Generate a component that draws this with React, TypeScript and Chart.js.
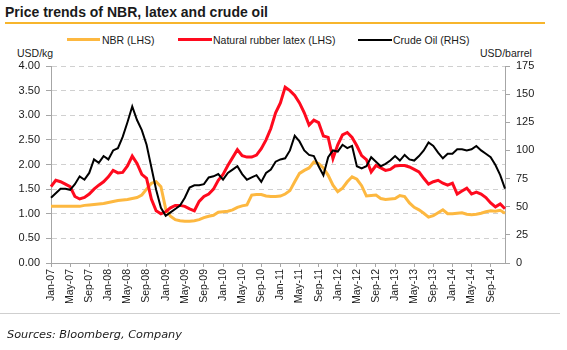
import React, { useEffect, useRef } from 'react';
import { Chart, registerables } from 'chart.js';

Chart.register(...registerables);

const MONTHS = ['Jan', 'Feb', 'Mar', 'Apr', 'May', 'Jun', 'Jul', 'Aug', 'Sep', 'Oct', 'Nov', 'Dec'];
const YEARS = ['07', '08', '09', '10', '11', '12', '13', '14'];
const categories: string[] = YEARS.flatMap((y) => MONTHS.map((m) => `${m}-${y}`));

// NBR (LHS), USD/kg
const nbr = [
  1.15, 1.15, 1.15, 1.15, 1.15, 1.15, 1.15, 1.17, 1.18, 1.19, 1.20, 1.21,
  1.23, 1.25, 1.27, 1.28, 1.29, 1.31, 1.33, 1.38, 1.50, 1.62, 1.65, 1.55,
  1.10, 0.95, 0.88, 0.86, 0.85, 0.85, 0.86, 0.88, 0.92, 0.95, 0.97, 1.03,
  1.04, 1.05, 1.08, 1.13, 1.16, 1.18, 1.38, 1.39, 1.39, 1.36, 1.35, 1.35,
  1.36, 1.40, 1.47, 1.65, 1.82, 1.88, 1.93, 2.05, 2.02, 1.93, 1.78, 1.58,
  1.45, 1.52, 1.65, 1.75, 1.70, 1.57, 1.36, 1.37, 1.38, 1.31, 1.29, 1.30,
  1.31, 1.37, 1.35, 1.22, 1.13, 1.08, 1.01, 0.93, 0.96, 1.02, 1.08, 1.00,
  1.00, 1.01, 1.02, 0.99, 0.98, 0.99, 1.01, 1.04, 1.06, 1.05, 1.07, 1.01,
];

// Natural rubber latex (LHS), USD/kg
const latex = [
  1.55, 1.68, 1.65, 1.60, 1.55, 1.35, 1.30, 1.33, 1.40, 1.50, 1.58, 1.65,
  1.75, 1.88, 1.83, 1.84, 1.97, 2.17, 2.02, 1.80, 1.72, 1.30, 1.06, 1.00,
  1.04, 1.12, 1.17, 1.17, 1.15, 1.10, 1.06, 1.25, 1.35, 1.40, 1.50, 1.68,
  1.80, 1.98, 2.14, 2.30, 2.18, 2.15, 2.15, 2.19, 2.32, 2.50, 2.73, 3.05,
  3.25, 3.57, 3.50, 3.40, 3.25, 3.05, 2.80, 2.90, 2.85, 2.58, 2.55, 2.12,
  2.40, 2.60, 2.65, 2.55, 2.38, 2.18, 2.10, 1.85, 1.98, 1.93, 1.88, 1.90,
  1.97, 1.98, 1.98, 1.95, 1.90, 1.85, 1.72, 1.60, 1.65, 1.68, 1.62, 1.58,
  1.62, 1.40, 1.46, 1.52, 1.40, 1.44, 1.40, 1.33, 1.22, 1.14, 1.20, 1.10,
];

// Crude Oil (RHS), USD/barrel
const crude = [
  58, 62, 66, 66, 65, 70, 77, 74, 80, 92, 89, 95,
  92, 100, 102, 112, 125, 139, 127, 118, 105, 85, 65, 49,
  42, 45, 48, 51, 58, 67, 69, 69, 70, 76, 77, 79,
  74, 80, 83, 86, 79, 74, 76, 78, 72, 80, 83, 90,
  92, 93, 100, 113, 108, 100, 96, 95, 86, 78, 94, 100,
  99, 105, 102, 104, 86, 84, 86, 94, 90, 86, 88, 91,
  95, 91, 96, 92, 91, 95, 100, 107, 104, 98, 93, 97,
  97, 101, 101, 100, 101, 104, 100, 97, 94, 87, 78, 66,
];

const LEFT_MIN = 0;
const LEFT_MAX = 4;
const LEFT_STEP = 0.5;
const RIGHT_MIN = 0;
const RIGHT_MAX = 175;
const RIGHT_STEP = 25;
const LABEL_EVERY = 4;

const ORANGE = '#FDB840';
const RED = '#FF0A1E';
const BLACK = '#000000';
const AXIS = '#A6A6A6';
const GRID = '#D0D0D0';
const TEXT = '#1A1A1A';
const FONT = '"Liberation Sans", Arial, sans-serif';

export default function App() {
  const ref = useRef<HTMLCanvasElement>(null);

  useEffect(() => {
    if (!ref.current) return;
    Chart.defaults.font.family = FONT;
    const chart = new Chart(ref.current, {
      type: 'line',
      data: {
        labels: categories,
        datasets: [
          { label: 'NBR (LHS)', data: nbr, borderColor: ORANGE, backgroundColor: ORANGE, borderWidth: 3, yAxisID: 'y', order: 2, pointRadius: 0, tension: 0 },
          { label: 'Natural rubber latex (LHS)', data: latex, borderColor: RED, backgroundColor: RED, borderWidth: 3, yAxisID: 'y', order: 1, pointRadius: 0, tension: 0 },
          { label: 'Crude Oil (RHS)', data: crude, borderColor: BLACK, backgroundColor: BLACK, borderWidth: 2, yAxisID: 'y1', order: 0, pointRadius: 0, tension: 0 },
        ],
      },
      options: {
        animation: false,
        responsive: false,
        maintainAspectRatio: false,
        layout: { padding: { top: 66, bottom: 47, left: 0, right: 0 } },
        plugins: { legend: { display: false }, title: { display: false }, tooltip: { enabled: false } },
        scales: {
          x: {
            type: 'category',
            ticks: {
              autoSkip: false,
              maxRotation: 90,
              minRotation: 90,
              padding: 2,
              color: TEXT,
              font: { size: 10.5, family: FONT },
              callback: (_v: any, i: number) => (i % LABEL_EVERY === 0 ? categories[i] : ''),
            },
            grid: {
              drawOnChartArea: false,
              drawTicks: true,
              tickLength: 4,
              tickColor: (c: any) => (c.index % LABEL_EVERY === 0 ? AXIS : 'rgba(0,0,0,0)'),
            },
            border: { color: AXIS, width: 1 },
            afterFit: (s: any) => { s.height = 40; },
          },
          y: {
            position: 'left',
            min: LEFT_MIN,
            max: LEFT_MAX,
            ticks: {
              stepSize: LEFT_STEP,
              padding: 6,
              color: TEXT,
              font: { size: 11, family: FONT },
              callback: (v: any) => Number(v).toFixed(2),
            },
            grid: { color: GRID, lineWidth: 1, tickColor: AXIS, tickLength: 5, drawTicks: true },
            border: { color: AXIS, width: 1, dash: [5, 4] },
            afterFit: (s: any) => { s.width = 51; },
          },
          y1: {
            position: 'right',
            min: RIGHT_MIN,
            max: RIGHT_MAX,
            ticks: { stepSize: RIGHT_STEP, padding: 6, color: TEXT, font: { size: 11, family: FONT } },
            grid: { drawOnChartArea: false, tickColor: AXIS, tickLength: 5 },
            border: { color: AXIS, width: 1 },
            afterFit: (s: any) => { s.width = 62; },
          },
        },
      },
    } as any);
    return () => chart.destroy();
  }, []);

  const abs = (o: React.CSSProperties): React.CSSProperties => ({ position: 'absolute', margin: 0, whiteSpace: 'nowrap', ...o });
  const legendText: React.CSSProperties = { fontFamily: FONT, fontSize: 10.5, lineHeight: '12px', color: TEXT };

  return (
    <div style={{ position: 'fixed', left: 0, top: 0, width: 567, height: 350, background: '#fff', overflow: 'hidden' }}>
      <div style={abs({ left: 5, top: 4, fontFamily: FONT, fontWeight: 'bold', fontSize: 14, lineHeight: '16px', color: TEXT })}>
        Price trends of NBR, latex and crude oil
      </div>
      <div style={abs({ left: 5, top: 22, width: 540, height: 2, background: '#F7B52C' })} />

      <div style={abs({ left: 67, top: 38, width: 33, height: 3, background: ORANGE })} />
      <div style={abs({ left: 102, top: 33.6, ...legendText })}>NBR (LHS)</div>
      <div style={abs({ left: 178, top: 38, width: 34, height: 3, background: RED })} />
      <div style={abs({ left: 213, top: 33.6, ...legendText })}>Natural rubber latex (LHS)</div>
      <div style={abs({ left: 358, top: 38.5, width: 34, height: 2, background: BLACK })} />
      <div style={abs({ left: 393, top: 33.6, ...legendText })}>Crude Oil (RHS)</div>

      <div style={abs({ left: 17, top: 47, ...legendText })}>USD/kg</div>
      <div style={abs({ left: 480, top: 47, ...legendText })}>USD/barrel</div>

      <canvas ref={ref} width={567} height={350} style={{ position: 'absolute', left: 0, top: 0, display: 'block' }} />

      <div style={abs({ left: 0, top: 313, width: 560, height: 1, background: '#CFCFCF' })} />
      <div style={abs({ left: 7, top: 327.6, fontFamily: '"DejaVu Sans", Verdana, sans-serif', fontStyle: 'italic', fontSize: 11.3, lineHeight: '14px', color: TEXT })}>
        Sources: Bloomberg, Company
      </div>
    </div>
  );
}
